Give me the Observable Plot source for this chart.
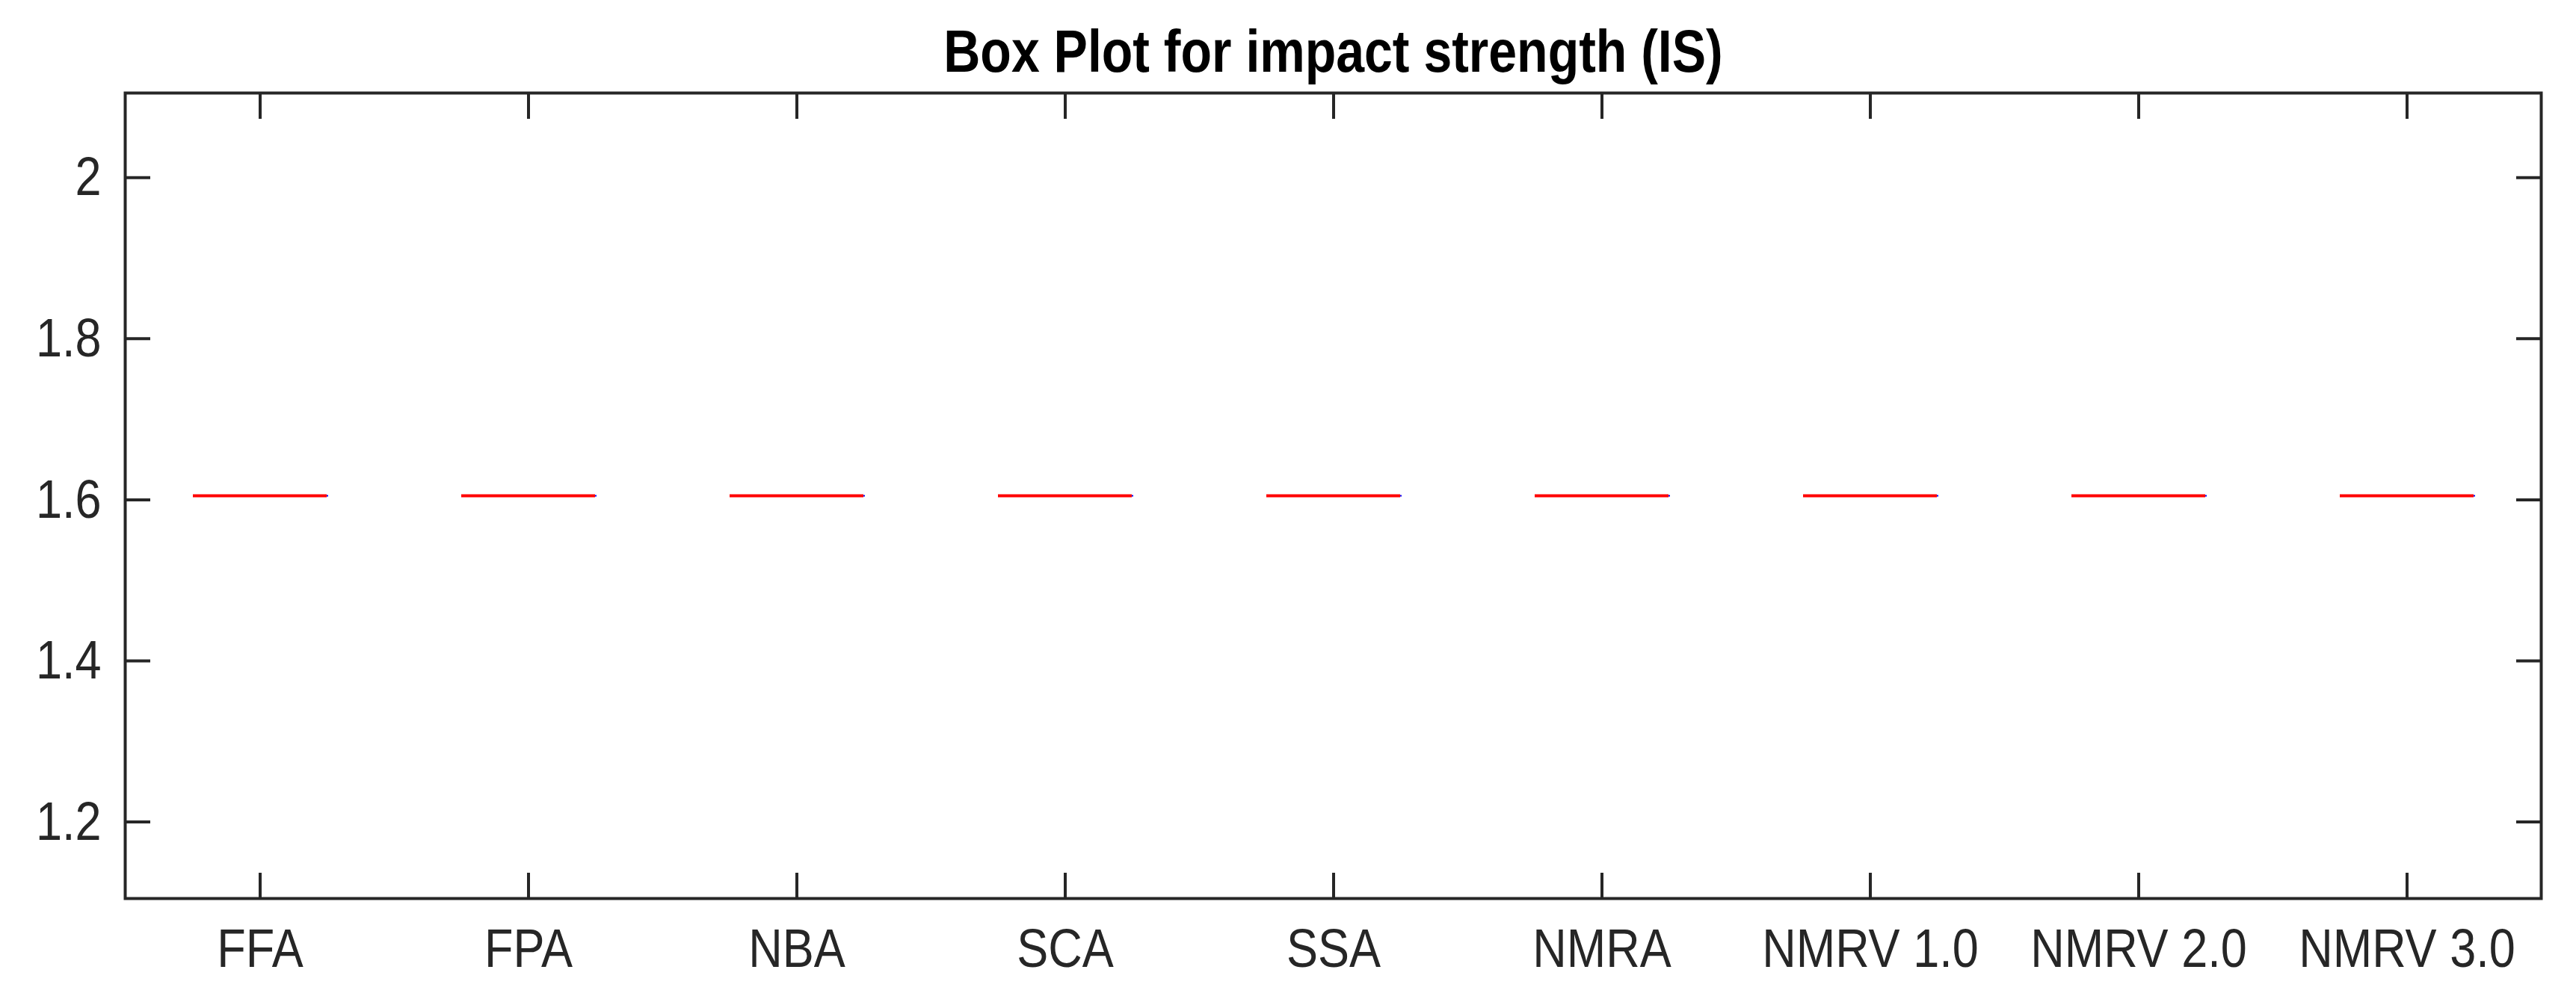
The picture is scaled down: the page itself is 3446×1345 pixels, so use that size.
<!DOCTYPE html>
<html>
<head>
<meta charset="utf-8">
<script src="https://cdn.jsdelivr.net/npm/d3@7"></script>
<script src="https://cdn.jsdelivr.net/npm/@observablehq/plot@0.6"></script>
<style>
  html, body { margin: 0; padding: 0; background: #ffffff; }
  #chart svg { display: block; }
</style>
</head>
<body>
<div id="chart"></div>
<script>
const titleText = ["Box Plot for impact strength (IS)"];
const categories = ["FFA", "FPA", "NBA", "SCA", "SSA", "NMRA", "NMRV 1.0", "NMRV 2.0", "NMRV 3.0"];
const medians = [1.605, 1.605, 1.605, 1.605, 1.605, 1.605, 1.605, 1.605, 1.605];
const q1 = [1.605, 1.605, 1.605, 1.605, 1.605, 1.605, 1.605, 1.605, 1.605];
const q3 = [1.605, 1.605, 1.605, 1.605, 1.605, 1.605, 1.605, 1.605, 1.605];
const yTicks = [1.2, 1.4, 1.6, 1.8, 2];
const yDomain = [1.105, 2.105];

const data = categories.map((c, i) => ({category: c, median: medians[i], q1: q1[i], q3: q3[i]}));

const ink = "#262626";
const fontFamily = "'Liberation Sans', Arial, Helvetica, sans-serif";

const chart = Plot.plot({
  width: 3446,
  height: 1345,
  marginLeft: 167,
  marginRight: 47,
  marginTop: 124,
  marginBottom: 143,
  style: {fontFamily, background: "#ffffff", color: ink},
  x: {type: "band", domain: categories, padding: 0, label: null},
  y: {domain: yDomain, label: null},
  marks: [
    // box (zero height) in blue, median in red
    Plot.tickY(data, {x: "category", y: "q3", stroke: "#0000ff", strokeWidth: 2, insetLeft: 90, insetRight: 88}),
    Plot.tickY(data, {x: "category", y: "median", stroke: "#ff0000", strokeWidth: 4, insetLeft: 90, insetRight: 90}),
    // inward ticks on all four sides
    Plot.axisX({anchor: "bottom", tickSize: -34, strokeWidth: 4, stroke: ink, tickFormat: () => "", label: null}),
    Plot.axisX({anchor: "top", tickSize: -34, strokeWidth: 4, stroke: ink, tickFormat: () => "", label: null}),
    Plot.axisY(yTicks, {anchor: "left", tickSize: -34, strokeWidth: 4, stroke: ink, tickFormat: () => "", label: null}),
    Plot.axisY(yTicks, {anchor: "right", tickSize: -34, strokeWidth: 4, stroke: ink, tickFormat: () => "", label: null}),
    // tick labels
    Plot.axisX({anchor: "bottom", tickSize: 0, tickPadding: 43, fontSize: 63, fill: ink, label: null}),
    Plot.axisY(yTicks, {anchor: "left", tickSize: 0, tickPadding: 32, fontSize: 63, fill: ink, label: null, tickFormat: d => String(d)}),
    Plot.frame({stroke: ink, strokeWidth: 4}),
    Plot.text(titleText, {frameAnchor: "top", lineAnchor: "bottom", dy: -32, fontSize: 68, fontWeight: "bold", fill: "#000000", text: d => d})
  ]
});
document.getElementById("chart").appendChild(chart);
// the reference's lettering is taller than it is wide: stretch glyphs vertically about their own centre
const stretch = 1.16;
chart.querySelectorAll("text").forEach(t => {
  if (!t.textContent) return;
  const b = t.getBBox();
  const cy = b.y + b.height / 2;
  const tr = t.getAttribute("transform") || "";
  t.setAttribute("transform", `${tr} translate(0,${cy}) scale(1,${stretch}) translate(0,${-cy})`);
});
</script>
</body>
</html>
